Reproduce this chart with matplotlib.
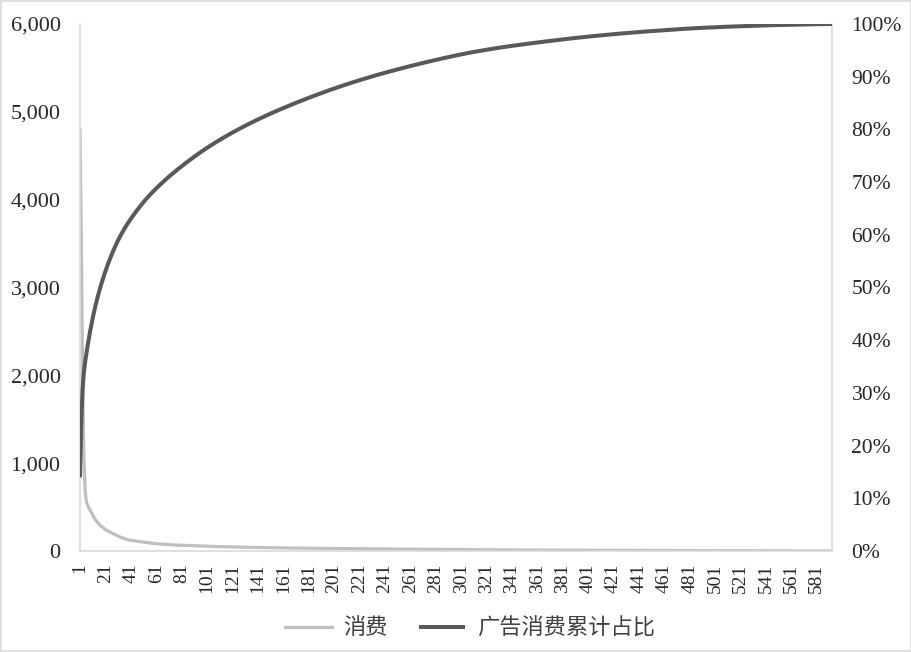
import numpy as np
import matplotlib
matplotlib.use('Agg')
import matplotlib.pyplot as plt
import matplotlib.ticker as ticker
from matplotlib.patches import Rectangle

# --- Data ---
# advertiser spend, sorted descending (categories 1..593)
spend = [
    4800, 3600, 2100, 1100, 700, 560, 520, 490, 460,
    440, 410, 385, 360, 340, 320, 305, 290,
    280, 268, 256, 245, 236, 228, 220, 212, 205, 198,
    192, 184, 176, 169, 163, 157, 151, 146, 141, 136, 131, 127, 123,
    121, 118, 116, 114, 112, 110, 108, 106, 104, 102, 100, 98, 96,
    94, 92, 90, 88, 86, 84, 83, 82, 81, 80, 79, 78, 77, 76, 75, 74, 73,
    72, 71, 70, 70, 69, 68, 68, 67, 66, 66, 65, 65, 64, 64, 63,
    63, 62, 62, 61, 61, 60, 60, 59, 59, 58,
    57, 57, 56, 56, 55, 55, 54, 54, 53, 53, 52, 52, 51, 51, 50, 50, 50, 49, 49, 48,
    48, 48, 47, 47, 46, 46, 46, 45, 45, 45, 44, 44, 44, 43, 43, 43, 42, 42, 42, 41,
    41, 41, 41, 40, 40, 40, 40, 39, 39, 39, 39, 38, 38,
    38, 37, 37, 37, 37, 36, 36, 36, 36, 36, 35, 35, 35, 35, 35, 35, 34, 34, 34, 34,
    34, 34, 33, 33, 33, 33, 33, 33, 32, 32, 32, 32, 32, 32, 32, 31, 31, 31, 31, 31,
    31, 31, 30, 30, 30, 30, 30, 30, 30, 29, 29, 29,
    29, 29, 28, 28, 28, 28, 28, 28, 27, 27, 27, 27, 27, 27, 27, 26, 26, 26, 26, 26,
    26, 26, 25, 25, 25, 25, 25, 25, 25, 24, 24, 24, 24, 24, 24, 24, 23, 23, 23, 23,
    23, 23, 23, 23, 22, 22, 22, 22, 22, 22, 22, 22, 22,
    22, 22, 21, 21, 21, 21, 21, 21, 21, 21, 21, 21, 20, 20, 20, 20, 20, 20, 20, 20,
    20, 20, 20, 20, 19, 19, 19, 19, 19, 19, 19, 19, 19, 19, 18, 18, 18, 18, 18, 18,
    18, 18, 18, 17, 17, 17, 17, 17, 17, 17, 17, 16,
    16, 16, 16, 15, 15, 15, 15, 15, 15, 15, 14, 14, 14, 14, 14, 14, 14, 14, 13, 13,
    13, 13, 13, 13, 13, 13, 13, 12, 12, 12, 12, 12, 12, 12, 12, 12, 12, 11, 11, 11,
    11, 11, 11, 11, 11, 11, 11, 11, 10, 10, 10, 10, 10,
    11, 11, 11, 11, 11, 11, 11, 11, 11, 11, 10, 10, 10, 10, 10, 10, 10, 10, 10, 10,
    10, 10, 10, 10, 10, 10, 9, 9, 9, 9, 9, 9, 9, 9, 9, 9, 9, 9, 9, 9,
    9, 9, 8, 8, 8, 8, 8, 8, 8, 8, 8, 8,
    8, 8, 8, 8, 8, 8, 8, 8, 8, 8, 7, 7, 7, 7, 7, 7, 7, 7, 7, 7,
    7, 7, 7, 7, 7, 7, 7, 7, 7, 7, 6, 6, 6, 6, 6, 6, 6, 6, 6, 6,
    6, 6, 6, 6, 6, 6, 6, 6, 6, 6,
    6, 6, 6, 6, 6, 6, 6, 6, 6, 6, 5, 5, 5, 5, 5, 5, 5, 5, 5, 5,
    5, 5, 5, 5, 5, 4, 4, 4, 4, 4, 4, 4, 4, 4, 4, 4, 4, 4, 4, 4,
    4, 4, 4, 4, 4, 3, 3, 3, 3, 3, 3, 3, 3, 3, 3, 3, 3, 3, 3, 3,
    3, 3, 3, 3, 3,
    3, 3, 3, 3, 3, 3, 3, 3, 3, 3, 3, 3, 3, 3, 3, 2, 2, 2, 2, 2,
    2, 2, 2, 2, 2, 2, 2, 2, 2, 2, 2, 2, 2, 2, 2, 2, 2, 2, 2, 2,
    2, 2, 2, 2, 2, 2, 2, 2, 2, 2, 1, 1, 1, 1, 1, 1, 1, 1, 1, 1,
    1, 1, 1, 1, 1, 1, 1, 1,
]
categories = list(range(1, len(spend) + 1))
tick_labels = [str(c) for c in range(1, 582, 20)]

SPEND_LABEL = '消费'
SHARE_LABEL = '广告消费累计占比'
LIGHT = '#BFBFBF'
DARK = '#595959'
AXIS_GRAY = '#D9D9D9'
TEXT = '#262626'

plt.rcParams['font.family'] = ['Liberation Serif', 'Noto Sans CJK SC']

spend_arr = np.array(spend, dtype=float)
share = np.cumsum(spend_arr) / spend_arr.sum()

fig = plt.figure(figsize=(9.12, 6.52), dpi=100)
ax = fig.add_axes([80 / 912, 101 / 652, 752 / 912, 527 / 652])
ax2 = ax.twinx()

ax.plot(categories, spend_arr, color=LIGHT, lw=2.3, solid_joinstyle='round',
        label=SPEND_LABEL, zorder=2)
ax2.plot(categories, share, color=DARK, lw=2.9, solid_joinstyle='round',
         solid_capstyle='butt', label=SHARE_LABEL, zorder=3)

ax.set_xlim(1, len(spend))
ax.set_ylim(0, 6000)
ax2.set_ylim(0, 1)
ax.set_yticks(np.arange(0, 6001, 1000))
ax.yaxis.set_major_formatter(ticker.FuncFormatter(lambda v, p: f'{int(v):,}'))
ax2.set_yticks(np.arange(0, 1.01, 0.1))
ax2.yaxis.set_major_formatter(ticker.FuncFormatter(lambda v, p: f'{v * 100:.0f}%'))

ax.set_xticks(range(1, 582, 20))
ax.set_xticklabels(tick_labels, rotation=90, va='top', ha='center', fontsize=14)

for a in (ax, ax2):
    a.tick_params(length=0, colors=TEXT)
    for side in ('top', 'left', 'right', 'bottom'):
        a.spines[side].set_visible(False)
ax.tick_params(axis='y', labelsize=16, pad=14)
ax2.tick_params(axis='y', labelsize=15.5, pad=14)
ax.tick_params(axis='x', pad=9)
for side in ('left', 'bottom'):
    ax.spines[side].set_visible(True)
    ax.spines[side].set_color(AXIS_GRAY)
    ax.spines[side].set_linewidth(1.2)
ax2.spines['right'].set_visible(True)
ax2.spines['right'].set_color(AXIS_GRAY)
ax2.spines['right'].set_linewidth(1.2)

h1, l1 = ax.get_legend_handles_labels()
h2, l2 = ax2.get_legend_handles_labels()
fig.legend(h1 + h2, l1 + l2, loc='center', bbox_to_anchor=(470 / 912, 1 - 628 / 652),
           ncol=2, frameon=False, handlelength=2.1, handletextpad=0.5, columnspacing=1.4,
           prop={'family': ['Noto Sans CJK SC'], 'size': 16}, labelcolor='#404040')

# light border round the whole chart area
fig.patches.append(Rectangle((0.001, 0.001), 0.998, 0.997, transform=fig.transFigure,
                             fill=False, edgecolor=AXIS_GRAY, lw=1.2))

fig.savefig('out.png', dpi=100)
